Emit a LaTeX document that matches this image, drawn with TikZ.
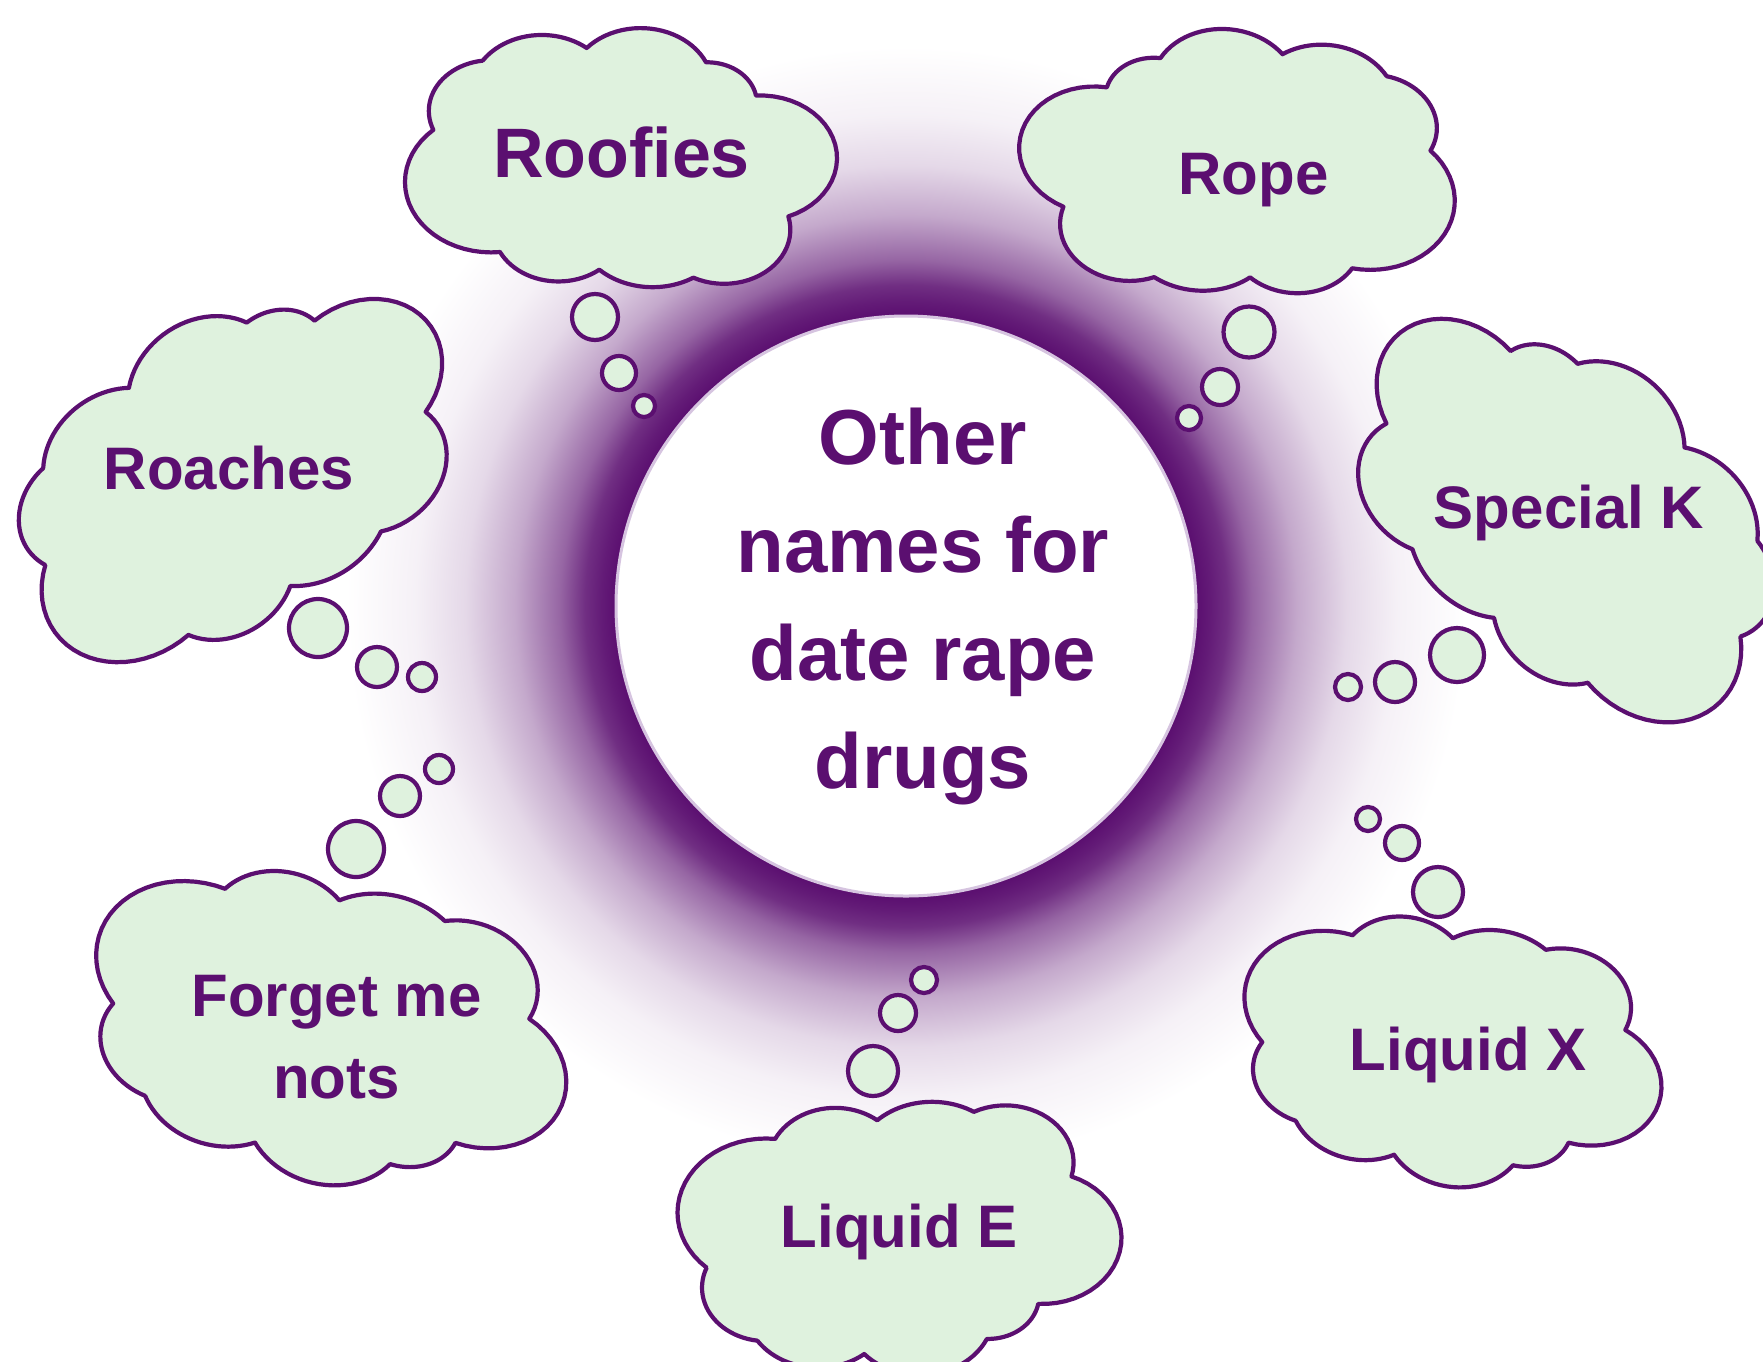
\documentclass[tikz,border=0pt]{standalone}
\usepackage{fontspec}
\setmainfont{Liberation Sans}
\definecolor{pp}{RGB}{91,15,112}
\definecolor{cloudfill}{RGB}{223,242,222}
\definecolor{rimedge}{RGB}{214,196,224}
% halo around the central disc (25bp = outer radius of the halo)
\pgfdeclareradialshading{glow}{\pgfpointorigin}{%
  color(0bp)=(pp); color(12.99bp)=(pp); color(13.6bp)=(pp!95!white);
  color(14.33bp)=(pp!87!white); color(15.45bp)=(pp!64!white);
  color(17.46bp)=(pp!36!white); color(19.69bp)=(pp!16!white);
  color(21.92bp)=(pp!6!white); color(25bp)=(white); color(50bp)=(white)}
\tikzset{
  cloudline/.style={fill=cloudfill, draw=pp, line width=4.2pt, line join=round},
  bubble/.style={fill=cloudfill, draw=pp, line width=4.2pt},
  lbl/.style={text=pp, inner sep=0pt, font=\bfseries\fontsize{60}{82}\selectfont},
}
\begin{document}
\begin{tikzpicture}[x=1pt,y=-1pt]
\useasboundingbox (0,0) rectangle (1763,1361);
\fill[white] (0,0) rectangle (1763,1361);
\clip (0,0) rectangle (1763,1361);

% cloud outline: each lobe is a circular arc through notch, crest, next notch
% (local frame u in [0,10], v in [0,7.3], v pointing down)
\gdef\cloudpts{}
\foreach \lax/\lay/\lmx/\lmy/\lbx/\lby in {%
  0.677/2.854/0.793/1.554/1.817/0.895,
  1.817/0.895/3.141/0.169/4.219/0.537,
  4.219/0.537/5.758/0.0/6.975/0.942,
  6.975/0.942/7.698/1.177/8.129/1.883,
  8.129/1.883/10.0/3.627/8.876/5.303,
  8.876/5.303/8.453/6.782/6.682/7.036,
  6.682/7.036/5.604/7.3/4.511/6.810,
  4.511/6.810/3.372/7.131/2.217/6.311,
  2.217/6.311/0.023/4.38/0.677/2.854}{%
  \pgfmathsetmacro\dd{2*(\lax*(\lmy-\lby)+\lmx*(\lby-\lay)+\lbx*(\lay-\lmy))}%
  \pgfmathsetmacro\sqa{\lax*\lax+\lay*\lay}%
  \pgfmathsetmacro\sqm{\lmx*\lmx+\lmy*\lmy}%
  \pgfmathsetmacro\sqb{\lbx*\lbx+\lby*\lby}%
  \pgfmathsetmacro\ccx{(\sqa*(\lmy-\lby)+\sqm*(\lby-\lay)+\sqb*(\lay-\lmy))/\dd}%
  \pgfmathsetmacro\ccy{(\sqa*(\lbx-\lmx)+\sqm*(\lax-\lbx)+\sqb*(\lmx-\lax))/\dd}%
  \pgfmathsetmacro\rr{veclen(\lax-\ccx,\lay-\ccy)}%
  \pgfmathsetmacro\ta{atan2(\lay-\ccy,\lax-\ccx)}%
  \pgfmathsetmacro\tb{atan2(\lby-\ccy,\lbx-\ccx)}%
  \pgfmathsetmacro\sw{mod(\tb-\ta+720,360)}%
  \foreach \k in {0,...,24}{%
    \pgfmathsetmacro\pu{\ccx+\rr*cos(\ta+\sw*\k/24)-5}%
    \pgfmathsetmacro\pv{\ccy+\rr*sin(\ta+\sw*\k/24)-3.65}%
    \xdef\cloudpts{\cloudpts (\pu,\pv)}%
  }%
}
\xdef\cloudpath{\noexpand\filldraw[cloudline] plot coordinates {\cloudpts} -- cycle;}

% halo and central disc
\shade[shading=glow] (906,606) circle[radius=560pt];
\filldraw[fill=white, draw=rimedge, line width=3pt] (906,606) circle[radius=290pt];

% clouds
\begin{scope}[shift={(620.5,158)}, xscale=43.3, yscale=35.34]\cloudpath\end{scope}
\begin{scope}[shift={(1238.5,162.5)}, rotate=-5, xscale=-44.0, yscale=35.89]\cloudpath\end{scope}
\begin{scope}[shift={(234,468)}, rotate=36, xscale=48.5, yscale=40.68]\cloudpath\end{scope}
\begin{scope}[shift={(1568,510)}, rotate=-45, xscale=-48.9, yscale=40.68]\cloudpath\end{scope}
\begin{scope}[shift={(327,1031)}, rotate=-16, xscale=49.3, yscale=-40.82]\cloudpath\end{scope}
\begin{scope}[shift={(1450,1053)}, rotate=-12, xscale=43.0, yscale=-35.7]\cloudpath\end{scope}
\begin{scope}[shift={(899,1238)}, xscale=44.5, yscale=-37.26]\cloudpath\end{scope}

% thought bubbles
\foreach \bxx/\byy/\brr in {595/317/23, 619/373/17, 644/406/11,
    1249/332/25.5, 1220/387/18, 1189/418/12,
    318/628/29, 377/667/20, 422/677/14,
    1457/655/27, 1395/682/20, 1348/687/13,
    356/849/28, 400/796/20, 439/769/14,
    1438/892/25, 1402/843/17, 1368/819/12,
    873/1071/25, 898/1013/18, 924/980/13}
  \filldraw[bubble] (\bxx,\byy) circle[radius=\brr pt];

% labels
\node[lbl, font=\bfseries\fontsize{78}{108}\selectfont, align=center, anchor=base] (title) at (923,788) {Other\\names for\\date rape\\drugs};
\node[lbl, font=\bfseries\fontsize{70}{84}\selectfont, anchor=base] (roofies) at (621.5,177) {Roofies};
\node[lbl, anchor=base] (rope) at (1253.5,194) {Rope};
\node[lbl, anchor=base] (roaches) at (229,489) {Roaches};
\node[lbl, anchor=base] (specialk) at (1569,528) {Special K};
\node[lbl, align=center, anchor=base] (forget) at (336.5,1098) {Forget me\\nots};
\node[lbl, anchor=base] (liquidx) at (1468,1070) {Liquid X};
\node[lbl, anchor=base] (liquide) at (899,1247) {Liquid E};
\end{tikzpicture}
\end{document}
